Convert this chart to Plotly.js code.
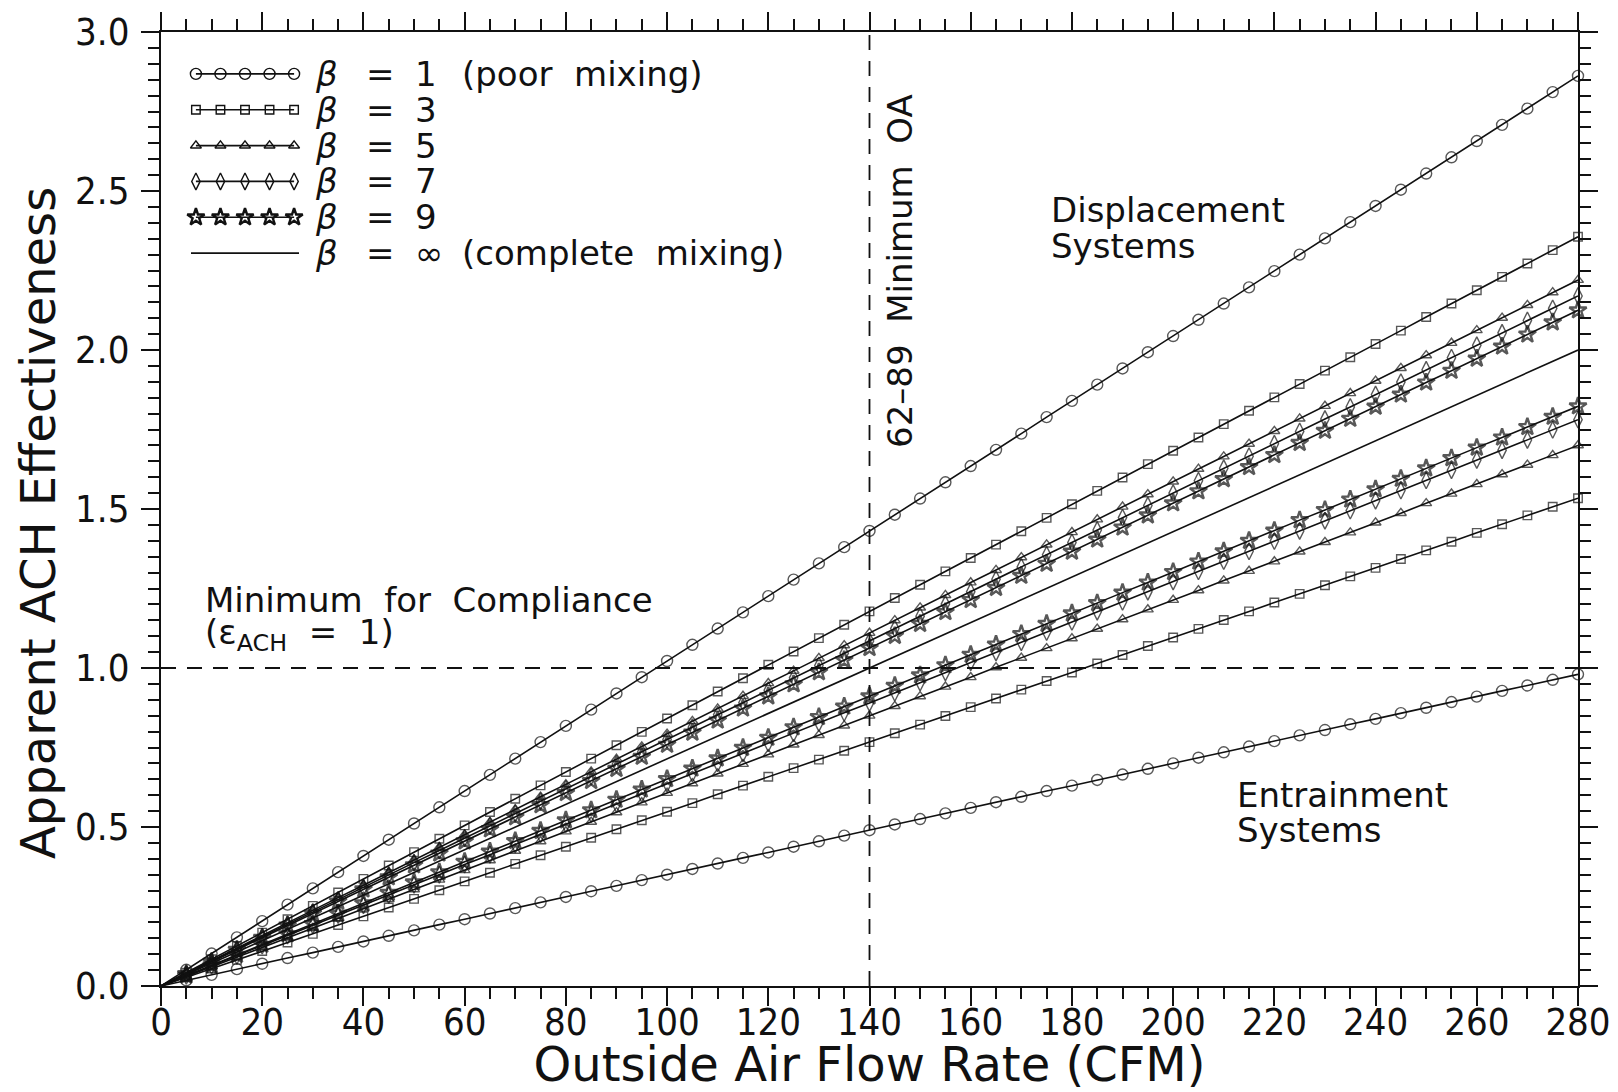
<!DOCTYPE html>
<html>
<head>
<meta charset="utf-8">
<script src="https://cdn.plot.ly/plotly-3.0.1.min.js"></script>
<style>html,body{margin:0;padding:0;background:#fff;}</style>
</head>
<body>
<div id="chart" style="width:1618px;height:1092px;"></div>
<script>
// ---------- data ----------
const flowCFM = [0,5,10,15,20,25,30,35,40,45,50,55,60,65,70,75,80,85,90,95,100,105,110,115,120,125,130,135,140,145,150,155,160,165,170,175,180,185,190,195,200,205,210,215,220,225,230,235,240,245,250,255,260,265,270,275,280];

// Displacement (upper) branch
const beta1Up = [0,0.051,0.102,0.153,0.204,0.256,0.307,0.358,0.409,0.460,0.511,0.562,0.613,0.664,0.715,0.767,0.818,0.869,0.920,0.971,1.022,1.073,1.124,1.175,1.226,1.278,1.329,1.380,1.431,1.482,1.533,1.584,1.635,1.686,1.737,1.789,1.840,1.891,1.942,1.993,2.044,2.095,2.146,2.197,2.248,2.300,2.351,2.402,2.453,2.504,2.555,2.606,2.657,2.708,2.759,2.811,2.862];
const beta3Up = [0,0.042,0.084,0.126,0.168,0.210,0.252,0.294,0.337,0.379,0.421,0.463,0.505,0.547,0.589,0.631,0.673,0.715,0.757,0.799,0.841,0.883,0.926,0.968,1.010,1.052,1.094,1.136,1.178,1.220,1.262,1.304,1.346,1.388,1.430,1.472,1.515,1.557,1.599,1.641,1.683,1.725,1.767,1.809,1.851,1.893,1.935,1.977,2.019,2.061,2.104,2.146,2.188,2.230,2.272,2.314,2.356];
const beta5Up = [0,0.040,0.079,0.119,0.159,0.198,0.238,0.278,0.317,0.357,0.397,0.436,0.476,0.515,0.555,0.595,0.634,0.674,0.714,0.753,0.793,0.833,0.872,0.912,0.952,0.991,1.031,1.071,1.110,1.150,1.190,1.229,1.269,1.308,1.348,1.388,1.427,1.467,1.507,1.546,1.586,1.626,1.665,1.705,1.745,1.784,1.824,1.864,1.903,1.943,1.983,2.022,2.062,2.101,2.141,2.181,2.220];
const beta7Up = [0,0.039,0.078,0.116,0.155,0.194,0.233,0.271,0.310,0.349,0.388,0.426,0.465,0.504,0.543,0.581,0.620,0.659,0.698,0.736,0.775,0.814,0.853,0.891,0.930,0.969,1.008,1.046,1.085,1.124,1.163,1.201,1.240,1.279,1.318,1.356,1.395,1.434,1.473,1.511,1.550,1.589,1.628,1.666,1.705,1.744,1.783,1.821,1.860,1.899,1.938,1.976,2.015,2.054,2.093,2.131,2.170];
const beta9Up = [0,0.038,0.076,0.114,0.152,0.190,0.228,0.266,0.304,0.342,0.380,0.417,0.455,0.493,0.531,0.569,0.607,0.645,0.683,0.721,0.759,0.797,0.835,0.873,0.911,0.949,0.987,1.025,1.063,1.101,1.139,1.176,1.214,1.252,1.290,1.328,1.366,1.404,1.442,1.480,1.518,1.556,1.594,1.632,1.670,1.708,1.746,1.784,1.822,1.860,1.898,1.935,1.973,2.011,2.049,2.087,2.125];

// Complete mixing (beta = infinity)
const mixX = [0,280];
const mixY = [0,2.00];

// Entrainment (lower) branch
const beta9Low = [0,0.033,0.065,0.098,0.130,0.163,0.195,0.228,0.260,0.293,0.326,0.358,0.391,0.423,0.456,0.488,0.521,0.553,0.586,0.618,0.651,0.684,0.716,0.749,0.781,0.814,0.846,0.879,0.911,0.944,0.977,1.009,1.042,1.074,1.107,1.139,1.172,1.204,1.237,1.269,1.302,1.335,1.367,1.400,1.432,1.465,1.497,1.530,1.562,1.595,1.628,1.660,1.693,1.725,1.758,1.790,1.823];
const beta7Low = [0,0.032,0.064,0.095,0.127,0.159,0.191,0.223,0.254,0.286,0.318,0.350,0.382,0.413,0.445,0.477,0.509,0.541,0.572,0.604,0.636,0.668,0.700,0.731,0.763,0.795,0.827,0.859,0.890,0.922,0.954,0.986,1.018,1.049,1.081,1.113,1.145,1.177,1.208,1.240,1.272,1.304,1.336,1.367,1.399,1.431,1.463,1.495,1.526,1.558,1.590,1.622,1.654,1.685,1.717,1.749,1.781];
const beta5Low = [0,0.030,0.061,0.091,0.121,0.152,0.182,0.212,0.243,0.273,0.304,0.334,0.364,0.395,0.425,0.455,0.486,0.516,0.546,0.577,0.607,0.637,0.668,0.698,0.728,0.759,0.789,0.819,0.850,0.880,0.911,0.941,0.971,1.002,1.032,1.062,1.093,1.123,1.153,1.184,1.214,1.244,1.275,1.305,1.335,1.366,1.396,1.426,1.457,1.487,1.518,1.548,1.578,1.609,1.639,1.669,1.700];
const beta3Low = [0,0.027,0.055,0.082,0.110,0.137,0.164,0.192,0.219,0.247,0.274,0.301,0.329,0.356,0.384,0.411,0.438,0.466,0.493,0.521,0.548,0.575,0.603,0.630,0.658,0.685,0.712,0.740,0.767,0.795,0.822,0.849,0.877,0.904,0.932,0.959,0.986,1.014,1.041,1.069,1.096,1.123,1.151,1.178,1.206,1.233,1.260,1.288,1.315,1.343,1.370,1.397,1.425,1.452,1.480,1.507,1.534];
const beta1Low = [0,0.018,0.035,0.053,0.070,0.088,0.105,0.123,0.140,0.158,0.175,0.193,0.210,0.228,0.245,0.263,0.280,0.298,0.315,0.333,0.350,0.368,0.385,0.403,0.420,0.438,0.455,0.473,0.490,0.508,0.525,0.543,0.560,0.578,0.595,0.613,0.630,0.648,0.665,0.683,0.700,0.718,0.735,0.753,0.770,0.788,0.805,0.823,0.840,0.858,0.875,0.893,0.910,0.928,0.945,0.963,0.980];

// reference lines
const minimumOA = [140];        // CFM, "62-89 Minimum OA"
const complianceLevel = [1.0];  // epsilon_ACH = 1

// legend
const betaValues = ['1','3','5','7','9','\u221e'];
const betaNotes  = ['(poor\u00a0\u00a0mixing)','','','','','(complete\u00a0\u00a0mixing)'];
const betaSymbols = ['circle-open','square-open','triangle-up-open','diamond-tall-open','star-open',null];
const legendSampleX = [0,1,2,3,4];

// tick labels
const xTickVals = [0,20,40,60,80,100,120,140,160,180,200,220,240,260,280];
const yTickVals = [0,0.5,1.0,1.5,2.0,2.5,3.0];

// ---------- styling ----------
const INK = '#111';
const FONT = 'DejaVu Sans, Liberation Sans, sans-serif';
const TICKFONT = 'Liberation Sans Narrow, DejaVu Sans Condensed, Roboto Condensed, Liberation Sans, sans-serif';
const symSize = {'circle-open':11,'square-open':8.5,'triangle-up-open':9.5,'diamond-tall-open':12,'star-open':13};
const symLine = {'circle-open':1.4,'square-open':1.4,'triangle-up-open':1.4,'diamond-tall-open':1.4,'star-open':2.4};

function curve(y, sym){
  return {
    x: flowCFM, y: y, type:'scatter', mode:'lines+markers', cliponaxis:false,
    line:{color:INK, width:1.6},
    marker:{symbol:sym, color:INK, size: flowCFM.map(v => v === 0 ? 0 : symSize[sym]),
            line:{color:INK, width:symLine[sym]}},
    showlegend:false, hoverinfo:'skip'
  };
}

const traces = [
  curve(beta1Up, 'circle-open'),
  curve(beta3Up, 'square-open'),
  curve(beta5Up, 'triangle-up-open'),
  curve(beta7Up, 'diamond-tall-open'),
  curve(beta9Up, 'star-open'),
  {x:mixX, y:mixY, type:'scatter', mode:'lines', line:{color:INK,width:1.6}, showlegend:false, hoverinfo:'skip'},
  curve(beta9Low, 'star-open'),
  curve(beta7Low, 'diamond-tall-open'),
  curve(beta5Low, 'triangle-up-open'),
  curve(beta3Low, 'square-open'),
  curve(beta1Low, 'circle-open')
];

// custom legend samples on an inset axis pair
betaSymbols.forEach((sym, row) => {
  if (sym) {
    traces.push({
      x: legendSampleX, y: legendSampleX.map(() => row), xaxis:'x2', yaxis:'y2',
      type:'scatter', mode:'lines+markers', cliponaxis:false,
      line:{color:INK,width:1.6},
      marker:{symbol:sym, color:INK, size:symSize[sym], line:{color:INK,width:symLine[sym]}},
      showlegend:false, hoverinfo:'skip'
    });
  } else {
    traces.push({
      x: [legendSampleX[0]-0.2, legendSampleX[legendSampleX.length-1]+0.2], y:[row,row], xaxis:'x2', yaxis:'y2',
      type:'scatter', mode:'lines', cliponaxis:false,
      line:{color:INK,width:1.6}, showlegend:false, hoverinfo:'skip'
    });
  }
});

// geometry helpers (paper coords)
const M = {l:161, r:40, t:32, b:106};
const W = 1618, H = 1092;
const pw = W - M.l - M.r, ph = H - M.t - M.b;
const px = X => (X - M.l) / pw;
const py = Y => (H - M.b - Y) / ph;

const annotations = [];
betaValues.forEach((v, row) => {
  annotations.push({xref:'paper', yref:'y2', x:px(313), y:row, xanchor:'left', yanchor:'middle', showarrow:false,
    text:'\u03b2', font:{family:FONT, size:34, color:INK, style:'italic'}});
  annotations.push({xref:'paper', yref:'y2', x:px(364), y:row, xanchor:'left', yanchor:'middle', showarrow:false,
    text:'=', font:{family:FONT, size:34, color:INK}});
  annotations.push({xref:'paper', yref:'y2', x:px(413), y:row, xanchor:'left', yanchor:'middle', showarrow:false,
    text:v, font:{family:FONT, size:34, color:INK}});
  if (betaNotes[row]) {
    annotations.push({xref:'paper', yref:'y2', x:px(460), y:row, xanchor:'left', yanchor:'middle', showarrow:false,
      text:betaNotes[row], font:{family:FONT, size:34, color:INK}});
  }
});

function label(text, X, Y, extra){
  return Object.assign({xref:'paper', yref:'paper', x:px(X), y:py(Y), xanchor:'left', yanchor:'middle',
    showarrow:false, text:text, font:{family:FONT, size:34, color:INK}}, extra || {});
}
annotations.push(label('Minimum\u00a0\u00a0for\u00a0\u00a0Compliance', 203, 600));
annotations.push(label('(\u03b5<sub>ACH</sub>\u00a0\u00a0=\u00a0\u00a01)', 203, 634));
annotations.push(label('Displacement', 1049, 210));
annotations.push(label('Systems', 1049, 246));
annotations.push(label('Entrainment', 1235, 795));
annotations.push(label('Systems', 1235, 830));
annotations.push(label('62\u201389\u00a0\u00a0Minimum\u00a0\u00a0OA', 900, 271, {xanchor:'center', textangle:-90}));
// y-axis title
annotations.push(label('Apparent ACH Effectiveness', 38, 523, {xanchor:'center', textangle:-90, font:{family:FONT, size:48, color:INK}}));

const shapes = [
  {type:'line', xref:'x', yref:'paper', x0:minimumOA[0], x1:minimumOA[0], y0:0, y1:1,
   line:{color:INK, width:1.8, dash:'15px,11px'}},
  {type:'line', xref:'paper', yref:'y', x0:0, x1:1, y0:complianceLevel[0], y1:complianceLevel[0],
   line:{color:INK, width:1.8, dash:'15px,11px'}}
];

const axisCommon = {
  showline:true, linecolor:INK, linewidth:2, mirror:'allticks',
  ticks:'outside', ticklen:18, tickwidth:2, tickcolor:INK,
  showgrid:false, zeroline:false,
  tickfont:{family:TICKFONT, size:38, color:INK}
};

const layout = {
  width:W, height:H, margin:M,
  paper_bgcolor:'#fff', plot_bgcolor:'#fff',
  showlegend:false,
  xaxis: Object.assign({}, axisCommon, {
    range:[0,280], tickvals:xTickVals, ticktext:xTickVals.map(String),
    minor:{dtick:5, tick0:0, ticks:'outside', ticklen:11, tickwidth:2, tickcolor:INK, showgrid:false},
    ticklabelstandoff:-17,
    title:{text:'Outside Air Flow Rate (CFM)', font:{family:FONT, size:48, color:INK}, standoff:28}
  }),
  yaxis: Object.assign({}, axisCommon, {
    range:[0,3], tickvals:yTickVals, ticktext:yTickVals.map(v => v.toFixed(1)),
    minor:{dtick:0.05, tick0:0, ticks:'outside', ticklen:11, tickwidth:2, tickcolor:INK, showgrid:false},
    ticklabelstandoff:4
  }),
  xaxis2:{domain:[px(191), px(299)], range:[-0.2,4.2], anchor:'y2', visible:false, fixedrange:true},
  yaxis2:{domain:[py(271), py(56)], range:[5.5,-0.5], anchor:'x2', visible:false, fixedrange:true},
  shapes: shapes,
  annotations: annotations
};

Plotly.newPlot('chart', traces, layout, {staticPlot:true, displayModeBar:false});
</script>
</body>
</html>
